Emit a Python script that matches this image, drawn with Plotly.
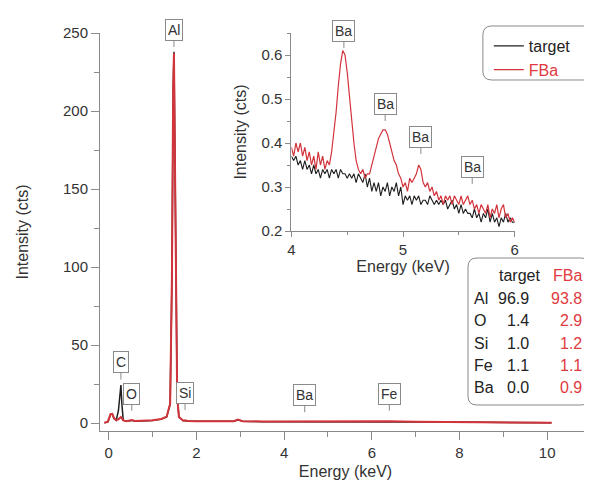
import plotly.graph_objects as go

# ---------------- data ----------------
main_energy = [-0.10, -0.02, 0.04, 0.08, 0.12, 0.17, 0.22, 0.25, 0.277, 0.30, 0.33, 0.40,
               0.525, 0.60, 0.80, 1.00, 1.20, 1.32, 1.40, 1.44, 1.47, 1.487, 1.50, 1.53,
               1.56, 1.60, 1.70, 1.74, 1.80, 2.00, 2.50, 2.85, 2.95, 3.05, 3.50, 4.00,
               4.47, 5.00, 6.00, 6.40, 7.00, 8.00, 9.00, 10.00, 10.10]
main_target = [0.2, 0.8, 5.5, 5.8, 3.0, 1.8, 8.0, 20.0, 24.5, 12.0, 2.0, 1.2,
               1.8, 1.3, 1.5, 1.8, 2.6, 4.0, 12.0, 90.0, 215.0, 238.0, 200.0, 90.0,
               18.0, 4.0, 1.5, 1.6, 1.3, 1.2, 1.1, 1.2, 2.2, 1.2, 1.0, 1.0,
               1.2, 0.9, 0.9, 1.2, 0.8, 0.7, 0.6, 0.5, 0.3]
main_fba = [0.3, 1.0, 5.8, 6.0, 3.2, 2.0, 2.5, 3.5, 4.0, 3.0, 1.8, 1.3,
            2.0, 1.4, 1.6, 1.9, 2.7, 4.2, 12.5, 92.0, 216.0, 237.0, 198.0, 88.0,
            17.0, 4.0, 1.6, 1.8, 1.4, 1.3, 1.2, 1.3, 2.3, 1.3, 1.1, 1.1,
            1.4, 1.0, 1.0, 1.3, 0.9, 0.8, 0.7, 0.6, 0.3]

inset_fba = [0.39, 0.37, 0.40, 0.38, 0.40, 0.37, 0.39, 0.36, 0.38, 0.35,
             0.37, 0.34, 0.38, 0.35, 0.37, 0.34, 0.36, 0.35, 0.38, 0.42,
             0.47, 0.53, 0.58, 0.61, 0.60, 0.56, 0.50, 0.45, 0.40, 0.36,
             0.34, 0.33, 0.34, 0.32, 0.33, 0.33, 0.35, 0.37, 0.39, 0.41,
             0.42, 0.43, 0.43, 0.42, 0.40, 0.38, 0.36, 0.35, 0.33, 0.32,
             0.30, 0.31, 0.29, 0.32, 0.31, 0.32, 0.33, 0.35, 0.34, 0.31,
             0.30, 0.31, 0.29, 0.30, 0.28, 0.29, 0.27, 0.28, 0.26, 0.28,
             0.27, 0.28, 0.26, 0.28, 0.27, 0.26, 0.28, 0.26, 0.27, 0.28,
             0.26, 0.27, 0.25, 0.26, 0.24, 0.26, 0.25, 0.24, 0.26, 0.23,
             0.25, 0.24, 0.26, 0.23, 0.25, 0.26, 0.23, 0.24, 0.22, 0.23, 0.22]
inset_target = [0.37, 0.36, 0.37, 0.35, 0.36, 0.34, 0.36, 0.34, 0.35, 0.33,
                0.35, 0.33, 0.34, 0.32, 0.34, 0.33, 0.34, 0.32, 0.34, 0.33,
                0.34, 0.32, 0.34, 0.33, 0.33, 0.32, 0.33, 0.32, 0.33, 0.31,
                0.33, 0.32, 0.31, 0.33, 0.30, 0.32, 0.29, 0.31, 0.29, 0.31,
                0.28, 0.30, 0.29, 0.31, 0.28, 0.30, 0.29, 0.31, 0.28, 0.30,
                0.26, 0.28, 0.27, 0.28, 0.26, 0.28, 0.27, 0.28, 0.26, 0.27,
                0.27, 0.26, 0.28, 0.27, 0.26, 0.27, 0.26, 0.27, 0.26, 0.27,
                0.25, 0.26, 0.27, 0.25, 0.26, 0.24, 0.26, 0.24, 0.25, 0.24,
                0.24, 0.23, 0.25, 0.23, 0.24, 0.22, 0.24, 0.23, 0.25, 0.22,
                0.24, 0.22, 0.23, 0.21, 0.23, 0.22, 0.24, 0.22, 0.23, 0.22, 0.22]
inset_energy = [round(4 + 0.02 * i, 2) for i in range(len(inset_fba))]

main_peak_labels = ["Al", "C", "O", "Si", "Ba", "Fe"]
main_peak_energy = [1.487, 0.277, 0.525, 1.74, 4.47, 6.40]
main_peak_y = [241, 28, 8, 8.5, 7, 8]

inset_peak_labels = ["Ba", "Ba", "Ba", "Ba"]
inset_peak_energy = [4.47, 4.84, 5.16, 5.62]
inset_peak_y = [0.616, 0.45, 0.375, 0.307]

table_elements = ["Al", "O", "Si", "Fe", "Ba"]
table_target = ["96.9", "1.4", "1.0", "1.1", "0.0"]
table_fba = ["93.8", "2.9", "1.2", "1.1", "0.9"]

# ---------------- styling ----------------
RED = "#d2343c"
RED_TXT = "#e03a40"
BLACK = "#1e1e1e"
AX = "#8a8a8a"
TXT = "#333333"
FONT = "Liberation Sans, Arial, sans-serif"

W, H = 592, 487
L, R, T, B = 92, 587, 25, 423


def px(x):
    return (x - L) / (R - L)


def py(y):
    return (B - y) / (B - T)


def rrect(x0, y0, x1, y1, r):
    pts = [
        ("M", [(x0 + r, y0)]), ("L", [(x1 - r, y0)]), ("Q", [(x1, y0), (x1, y0 + r)]),
        ("L", [(x1, y1 - r)]), ("Q", [(x1, y1), (x1 - r, y1)]), ("L", [(x0 + r, y1)]),
        ("Q", [(x0, y1), (x0, y1 - r)]), ("L", [(x0, y0 + r)]), ("Q", [(x0, y0), (x0 + r, y0)]),
    ]
    s = ""
    for cmd, ps in pts:
        s += cmd + " " + " ".join(f"{px(a):.5f},{py(b):.5f}" for a, b in ps) + " "
    return s + "Z"


fig = go.Figure()

fig.add_trace(go.Scatter(x=main_energy, y=main_target, mode="lines",
                         line=dict(color=BLACK, width=1.5), showlegend=False,
                         xaxis="x", yaxis="y"))
fig.add_trace(go.Scatter(x=main_energy, y=main_fba, mode="lines",
                         line=dict(color=RED, width=2), showlegend=False,
                         xaxis="x", yaxis="y"))
fig.add_trace(go.Scatter(x=inset_energy, y=inset_target, mode="lines", name="target",
                         line=dict(color=BLACK, width=1.1), xaxis="x2", yaxis="y2"))
fig.add_trace(go.Scatter(x=inset_energy, y=inset_fba, mode="lines",
                         name=f"<span style='color:{RED_TXT}'>FBa</span>",
                         line=dict(color=RED, width=1.2), xaxis="x2", yaxis="y2"))

axis_common = dict(showline=True, linecolor=AX, linewidth=1, ticks="outside",
                   tickcolor=AX, ticklen=8, showgrid=False, zeroline=False,
                   tickfont=dict(size=15, color=TXT, family=FONT))

ann_font = dict(size=14, color=TXT, family=FONT)
annotations = []
for lab, ex, ey in zip(main_peak_labels, main_peak_energy, main_peak_y):
    annotations.append(dict(x=ex, y=ey, xref="x", yref="y", text=lab, showarrow=True,
                            arrowhead=0, arrowwidth=1, arrowcolor=AX, ax=0, ay=-17,
                            bordercolor=AX, borderwidth=1, borderpad=2, bgcolor="white",
                            font=ann_font))
for lab, ex, ey in zip(inset_peak_labels, inset_peak_energy, inset_peak_y):
    annotations.append(dict(x=ex, y=ey, xref="x2", yref="y2", text=lab, showarrow=True,
                            arrowhead=0, arrowwidth=1, arrowcolor=AX, ax=0, ay=-17,
                            bordercolor=AX, borderwidth=1, borderpad=2, bgcolor="white",
                            font=ann_font))

# table text
tfont = dict(size=16, color="#222", family=FONT)
tfont_red = dict(size=16, color=RED_TXT, family=FONT)
annotations.append(dict(x=px(538), y=py(267), xref="paper", yref="paper", text="target",
                        showarrow=False, xanchor="right", yanchor="middle", font=tfont))
annotations.append(dict(x=px(580), y=py(267), xref="paper", yref="paper", text="FBa",
                        showarrow=False, xanchor="right", yanchor="middle", font=tfont_red))
row_y = [290, 312.5, 335, 357, 379]
for el, tv, fv, yy in zip(table_elements, table_target, table_fba, row_y):
    annotations.append(dict(x=px(467), y=py(yy), xref="paper", yref="paper", text=el,
                            showarrow=False, xanchor="left", yanchor="middle", font=tfont))
    annotations.append(dict(x=px(527), y=py(yy), xref="paper", yref="paper", text=tv,
                            showarrow=False, xanchor="right", yanchor="middle", font=tfont))
    annotations.append(dict(x=px(580), y=py(yy), xref="paper", yref="paper", text=fv,
                            showarrow=False, xanchor="right", yanchor="middle", font=tfont_red))

shapes = [
    dict(type="path", xref="paper", yref="paper", path=rrect(463, 250, 586, 397, 9),
         line=dict(color=AX, width=1), fillcolor="white", layer="below"),
    dict(type="path", xref="paper", yref="paper", path=rrect(478, 18, 590, 72, 9),
         line=dict(color=AX, width=1), fillcolor="white", layer="below"),
]

title_font = dict(size=16, color=TXT, family=FONT)
fig.update_layout(
    width=W, height=H,
    margin=dict(l=L, r=W - R, t=T, b=H - B),
    paper_bgcolor="white", plot_bgcolor="rgba(0,0,0,0)",
    font=dict(family=FONT, color=TXT),
    xaxis=dict(axis_common, domain=[0, 1], range=[-0.2, 11], dtick=2, tick0=0,
               minor=dict(dtick=1, ticks="outside", ticklen=5, tickcolor=AX),
               title=dict(text="Energy (keV)", font=title_font, standoff=5),
               anchor="y"),
    yaxis=dict(axis_common, domain=[0, 1], range=[-5, 250], dtick=50, tick0=0,
               minor=dict(dtick=25, ticks="outside", ticklen=5, tickcolor=AX),
               title=dict(text="Intensity (cts)", font=title_font, standoff=30),
               anchor="x"),
    xaxis2=dict(axis_common, domain=[px(285), px(510)], range=[4, 6], dtick=1, tick0=4,
                ticklen=5, tickfont=dict(size=15, color=TXT, family=FONT),
                minor=dict(dtick=0.5, ticks="outside", ticklen=3, tickcolor=AX),
                title=dict(text="Energy (keV)", font=title_font, standoff=0),
                anchor="y2"),
    yaxis2=dict(axis_common, domain=[py(223), 1.0], range=[0.2, 0.65], dtick=0.1, tick0=0.2,
                ticklen=5, tickformat=".1f", tickfont=dict(size=15, color=TXT, family=FONT),
                minor=dict(dtick=0.05, ticks="outside", ticklen=3, tickcolor=AX),
                title=dict(text="Intensity (cts)", font=title_font, standoff=10),
                anchor="x2"),
    legend=dict(x=px(484), y=py(21), xanchor="left", yanchor="top",
                bgcolor="rgba(0,0,0,0)", borderwidth=0,
                font=dict(size=16, color="#222", family=FONT), tracegroupgap=2),
    annotations=annotations,
    shapes=shapes,
)

fig.write_html("out.html")
